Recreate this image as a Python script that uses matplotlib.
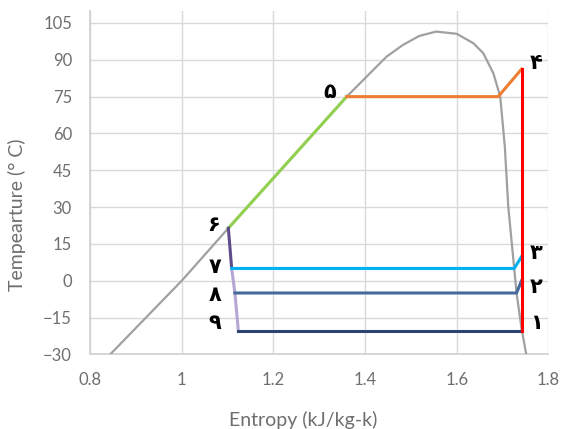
import matplotlib
matplotlib.use("Agg")
from matplotlib import pyplot as plt

# saturation dome
dome_s = [0.844, 1.0, 1.1017, 1.36, 1.40, 1.447, 1.483, 1.518, 1.555, 1.60,
          1.636, 1.658, 1.680, 1.695, 1.705, 1.7125, 1.7255, 1.7306, 1.7415, 1.752]
dome_t = [-30, 0, 21.4, 75, 82.5, 91.3, 96.1, 99.7, 101.5, 100.6,
          96.8, 92.7, 84.5, 75, 54.6, 30.2, 5, -5, -19.5, -30.3]

# cycle segments
s_1_4 = [1.7415, 1.7415]
t_1_4 = [-20.4, 86.2]
s_4_5 = [1.7415, 1.6905, 1.36]
t_4_5 = [86.2, 75, 75]
s_5_6 = [1.36, 1.1017]
t_5_6 = [75, 21.4]
s_6_7 = [1.1017, 1.109]
t_6_7 = [21.4, 5]
s_7_9 = [1.109, 1.116, 1.1235]
t_7_9 = [5, -5, -20.4]
s_7_3 = [1.109, 1.7255, 1.7415]
t_7_3 = [5, 5, 9.8]
s_8_2 = [1.116, 1.7306, 1.7415]
t_8_2 = [-5, -5, 0]
s_9_1 = [1.1235, 1.7415]
t_9_1 = [-20.4, -20.4]

labels = ['۱', '۲', '۳', '۴', '۵', '۶', '۷', '۸', '۹']
label_s = [1.774, 1.774, 1.774, 1.774, 1.3235, 1.069, 1.073, 1.073, 1.073]
label_t = [-17.4, -2.4, 11.2, 88.6, 77.0, 22.7, 5.7, -5.8, -17.4]

fig = plt.figure(figsize=(5.63, 4.29), dpi=100)
ax = fig.add_axes([0.160, 0.174, 0.814, 0.801])

ax.plot(dome_s, dome_t, color='#a0a0a0', lw=1.6, zorder=3)
ax.plot(s_5_6, t_5_6, color='#92D050', lw=2.2, zorder=4)
ax.plot(s_4_5, t_4_5, color='#ED7D31', lw=2.2, zorder=4)
ax.plot(s_6_7, t_6_7, color='#5F4B8B', lw=2.2, zorder=4)
ax.plot(s_7_9, t_7_9, color='#B4A7D6', lw=2.2, zorder=4)
ax.plot(s_7_3, t_7_3, color='#00B0F0', lw=2.2, zorder=4)
ax.plot(s_8_2, t_8_2, color='#44699A', lw=2.2, zorder=4)
ax.plot(s_9_1, t_9_1, color='#2B4570', lw=2.2, zorder=4)
ax.plot(s_1_4, t_1_4, color='#FF0000', lw=2.2, zorder=5)

for lab, s, t in zip(labels, label_s, label_t):
    ax.text(s, t, lab, ha='center', va='center', fontsize=15,
            fontweight='bold', family='DejaVu Sans', color='black', zorder=6,
            clip_on=False)

ax.set_xlim(0.8, 1.8)
ax.set_ylim(-30, 110)
ax.set_xticks([0.8, 1.0, 1.2, 1.4, 1.6, 1.8])
ax.set_xticklabels(['0.8', '1', '1.2', '1.4', '1.6', '1.8'])
ax.set_yticks(range(-30, 106, 15))
ax.grid(True, color='#d9d9d9', lw=1)
ax.set_axisbelow(True)
for sp in ['top', 'right']:
    ax.spines[sp].set_visible(False)
for sp in ['left', 'bottom']:
    ax.spines[sp].set_color('#d0d0d0')
    ax.spines[sp].set_linewidth(1.2)
ax.tick_params(length=0, pad=13, labelsize=12, labelcolor='#6e6e6e')
for lbl in ax.get_xticklabels() + ax.get_yticklabels():
    lbl.set_family('Lato')

fig.text(0.538, 0.006, 'Entropy (kJ/kg-k)', ha='center', va='baseline',
         fontsize=14, color='#6e6e6e', family='Lato')
fig.text(0.031, 0.499, 'Tempearture (° C)', ha='center', va='center',
         rotation=90, fontsize=14, color='#6e6e6e', family='Lato')

fig.savefig('out.png', dpi=100)
